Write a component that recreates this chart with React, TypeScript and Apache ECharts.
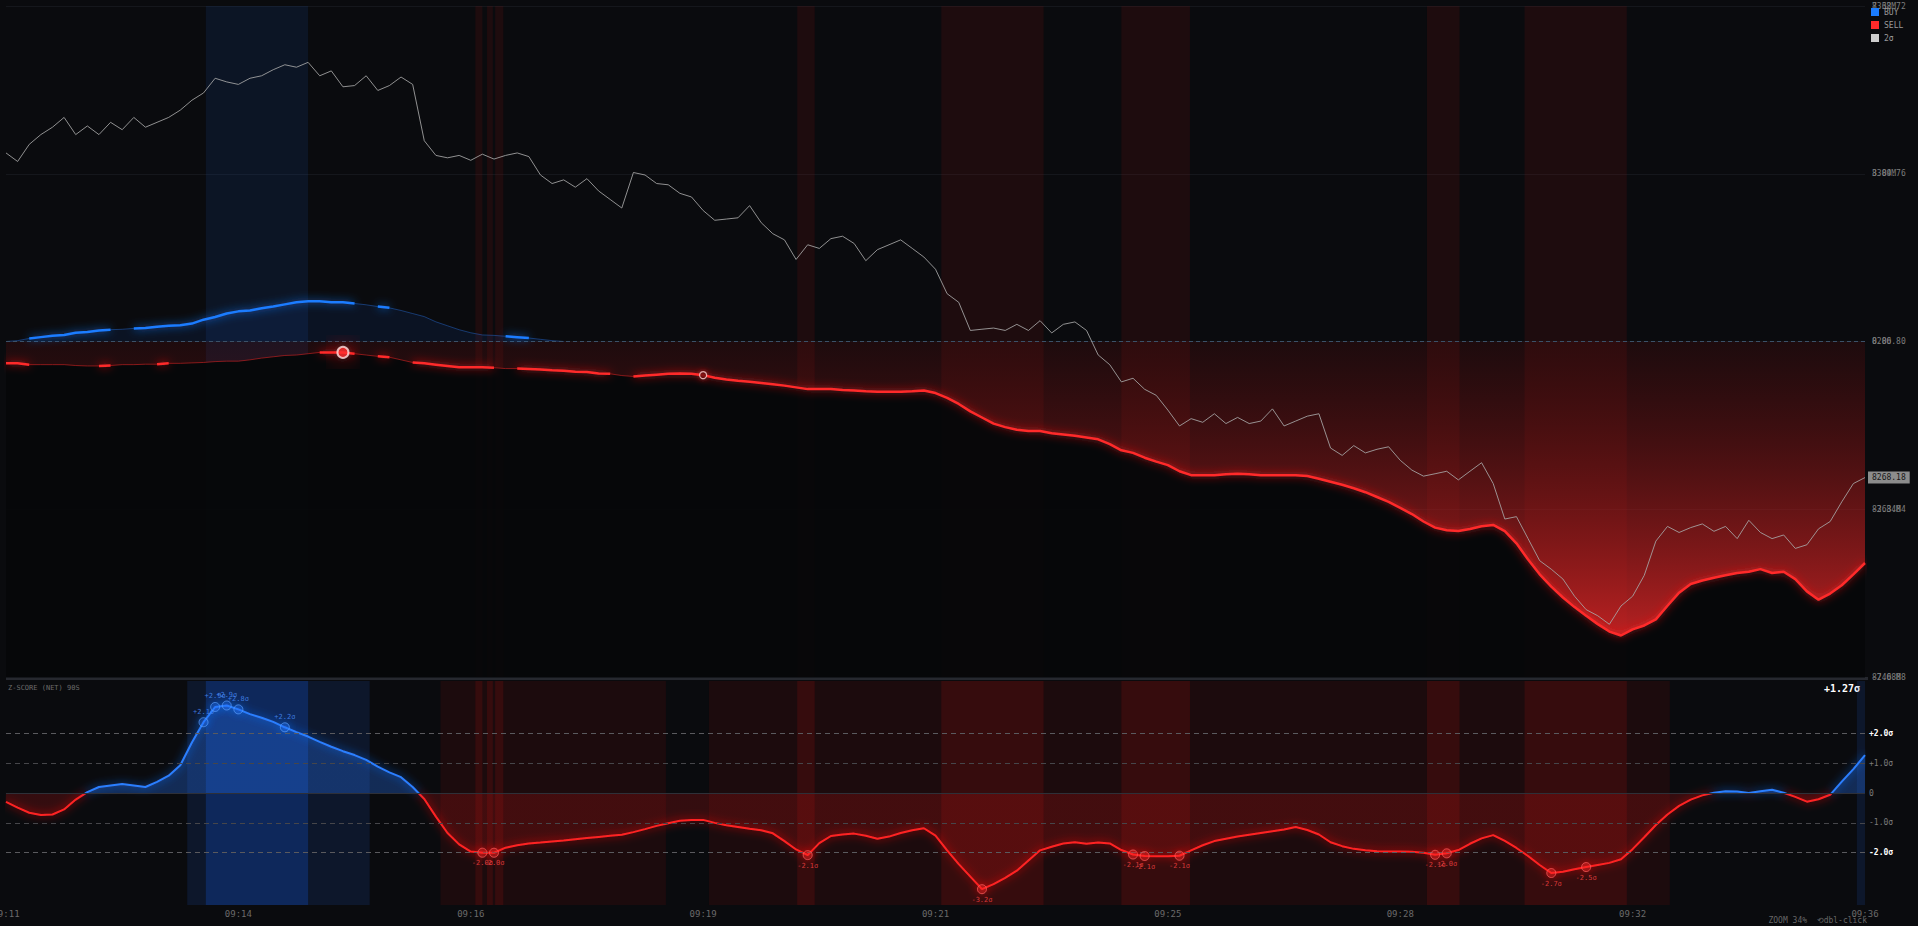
import React, { useEffect, useRef } from 'react';
import * as echarts from 'echarts';

const tickLabels = ['09:11', '09:14', '09:16', '09:19', '09:21', '09:25', '09:28', '09:32', '09:36'];
const priceTicks = ['8240.88', '8263.84', '8286.80', '8309.76', '8332.72'];

const price = [
  8312.61, 8311.44, 8313.78, 8315.12, 8316.13, 8317.47, 8315.12, 8316.30, 8315.12, 8316.80,
  8315.79, 8317.47, 8316.13, 8316.80, 8317.47, 8318.47, 8319.82, 8320.82, 8322.83, 8322.33,
  8321.99, 8322.83, 8323.17, 8324.00, 8324.68, 8324.34, 8325.01, 8323.17, 8323.84, 8321.66,
  8321.83, 8323.17, 8321.16, 8321.83, 8323.00, 8321.99, 8314.28, 8312.27, 8311.94, 8312.27,
  8311.60, 8312.44, 8311.77, 8312.27, 8312.61, 8312.11, 8309.59, 8308.42, 8308.92, 8307.92,
  8309.09, 8307.41, 8306.24, 8305.07, 8309.93, 8309.59, 8308.42, 8308.25, 8307.08, 8306.58,
  8304.73, 8303.39, 8303.56, 8303.73, 8305.40, 8303.06, 8301.55, 8300.71, 8298.03, 8300.04,
  8299.54, 8300.88, 8301.21, 8300.21, 8297.86, 8299.37, 8300.04, 8300.71, 8299.54, 8298.36,
  8296.69, 8293.34, 8292.16, 8288.31, 8288.48, 8288.64, 8288.31, 8289.15, 8288.31, 8289.65,
  8287.97, 8289.15, 8289.48, 8288.31, 8284.96, 8283.62, 8281.27, 8281.77, 8280.26, 8279.43,
  8277.41, 8275.24, 8276.24, 8275.74, 8276.91, 8275.57, 8276.41, 8275.57, 8275.91, 8277.58,
  8275.24, 8275.91, 8276.58, 8276.91, 8272.22, 8271.21, 8272.55, 8271.55, 8272.05, 8272.39,
  8270.54, 8269.20, 8268.37, 8268.70, 8269.04, 8267.86, 8269.04, 8270.21, 8267.36, 8262.50,
  8262.83, 8259.82, 8256.80, 8255.63, 8254.29, 8251.94, 8250.10, 8249.26, 8248.09, 8250.60,
  8251.94, 8254.79, 8259.48, 8261.49, 8260.66, 8261.33, 8261.83, 8260.82, 8261.49, 8259.82,
  8262.33, 8260.66, 8259.82, 8260.32, 8258.48, 8258.98, 8261.16, 8262.16, 8264.85, 8267.36,
  8268.18,
];

// cumulative BUY volume (millions), first part of the session only
const buyCum = [
  0, 0.02, 0.07, 0.10, 0.13, 0.15, 0.20, 0.22, 0.25, 0.27,
  0.28, 0.30, 0.31, 0.34, 0.36, 0.37, 0.41, 0.50, 0.56, 0.64,
  0.69, 0.71, 0.76, 0.80, 0.85, 0.90, 0.92, 0.92, 0.90, 0.90,
  0.87, 0.84, 0.80, 0.77, 0.71, 0.64, 0.57, 0.45, 0.36, 0.27,
  0.20, 0.15, 0.14, 0.12, 0.10, 0.08, 0.05, 0.02, 0,
];

// cumulative SELL volume (millions)
const sellCum = [
  -0.50, -0.50, -0.53, -0.53, -0.53, -0.53, -0.55, -0.56, -0.56, -0.55,
  -0.53, -0.53, -0.52, -0.52, -0.50, -0.50, -0.49, -0.48, -0.46, -0.45,
  -0.45, -0.42, -0.38, -0.35, -0.32, -0.31, -0.28, -0.25, -0.25, -0.25,
  -0.28, -0.31, -0.34, -0.36, -0.42, -0.48, -0.50, -0.53, -0.56, -0.59,
  -0.59, -0.59, -0.60, -0.62, -0.62, -0.63, -0.64, -0.66, -0.67, -0.69,
  -0.70, -0.73, -0.74, -0.78, -0.80, -0.78, -0.76, -0.74, -0.73, -0.74,
  -0.77, -0.83, -0.87, -0.90, -0.92, -0.95, -0.98, -1.01, -1.05, -1.09,
  -1.09, -1.09, -1.11, -1.12, -1.14, -1.15, -1.15, -1.15, -1.14, -1.12,
  -1.18, -1.29, -1.43, -1.60, -1.74, -1.88, -1.96, -2.02, -2.05, -2.05,
  -2.10, -2.13, -2.16, -2.20, -2.24, -2.35, -2.49, -2.55, -2.66, -2.75,
  -2.83, -2.97, -3.06, -3.06, -3.06, -3.04, -3.03, -3.04, -3.06, -3.06,
  -3.06, -3.06, -3.08, -3.14, -3.21, -3.28, -3.36, -3.45, -3.56, -3.67,
  -3.81, -3.95, -4.12, -4.26, -4.32, -4.34, -4.29, -4.23, -4.20, -4.34,
  -4.62, -4.99, -5.33, -5.61, -5.86, -6.08, -6.28, -6.47, -6.64, -6.73,
  -6.59, -6.50, -6.36, -6.05, -5.75, -5.55, -5.47, -5.41, -5.35, -5.30,
  -5.27, -5.21, -5.30, -5.27, -5.44, -5.72, -5.91, -5.77, -5.58, -5.33,
  -5.07,
];

const zScore = [
  -0.30, -0.49, -0.66, -0.74, -0.72, -0.55, -0.22, 0.03, 0.20, 0.25,
  0.30, 0.25, 0.20, 0.37, 0.58, 0.93, 1.69, 2.37, 2.88, 2.93,
  2.80, 2.64, 2.52, 2.38, 2.20, 2.04, 1.89, 1.71, 1.55, 1.40,
  1.27, 1.11, 0.88, 0.69, 0.53, 0.20, -0.20, -0.79, -1.34, -1.72,
  -1.96, -2.00, -2.00, -1.83, -1.75, -1.69, -1.66, -1.62, -1.59, -1.55,
  -1.51, -1.47, -1.43, -1.40, -1.31, -1.21, -1.10, -1.01, -0.93, -0.90,
  -0.90, -1.00, -1.08, -1.14, -1.20, -1.25, -1.35, -1.61, -1.89, -2.08,
  -1.68, -1.44, -1.39, -1.36, -1.43, -1.53, -1.46, -1.34, -1.25, -1.18,
  -1.43, -1.92, -2.38, -2.80, -3.22, -3.05, -2.84, -2.60, -2.26, -1.92,
  -1.80, -1.69, -1.65, -1.70, -1.66, -1.69, -1.91, -2.06, -2.11, -2.12,
  -2.12, -2.10, -1.92, -1.75, -1.61, -1.53, -1.46, -1.40, -1.34, -1.28,
  -1.22, -1.14, -1.24, -1.39, -1.65, -1.78, -1.87, -1.92, -1.95, -1.96,
  -1.96, -1.97, -2.00, -2.07, -2.02, -1.91, -1.70, -1.52, -1.41, -1.60,
  -1.84, -2.11, -2.41, -2.68, -2.64, -2.55, -2.48, -2.41, -2.34, -2.22,
  -1.88, -1.48, -1.07, -0.72, -0.43, -0.22, -0.08, 0.01, 0.06, 0.05,
  0.00, 0.06, 0.11, 0.01, -0.13, -0.29, -0.21, -0.06, 0.38, 0.80,
  1.27,
];

const buyActive = [[2, 9], [11, 19], [20, 30], [32, 33], [43, 45]];
const sellActive = [[0, 2], [8, 9], [13, 14], [27, 30], [32, 33], [35, 42], [44, 52], [54, 72], [73, 74], [75, 76], [77, 160]];
const sellSignalIdx = [29, 60];

const buyZIdx = [17, 18, 19, 20, 24];
const buyZLabels = ['+2.1σ', '+2.9σ', '+2.9σ', '+2.8σ', '+2.2σ'];
const sellZIdx = [41, 42, 69, 84, 97, 98, 101, 123, 124, 133, 136];
const sellZLabels = ['-2.0σ', '-2.0σ', '-2.1σ', '-3.2σ', '-2.1σ', '-2.1σ', '-2.1σ', '-2.1σ', '-2.0σ', '-2.7σ', '-2.5σ'];

const zLevels = [2, 1, 0, -1, -2];
const zLevelLabels = ['+2.0σ', '+1.0σ', '0', '-1.0σ', '-2.0σ'];

const mainBuyBands = [[17.2, 26.0]];
const mainSellBands = [[40.4, 41.0], [41.4, 41.9], [42.1, 42.8], [68.1, 69.6], [80.5, 89.3], [96.0, 101.9], [122.3, 125.1], [130.7, 139.5]];
const lowerBuyDim = [[15.6, 31.3], [159.3, 160]];
const lowerBuyBright = [[17.2, 26.0]];
const lowerSellDim = [[37.4, 56.8], [60.5, 143.2]];
const lowerSellBright = [[40.4, 41.0], [41.4, 41.9], [42.1, 42.8], [68.1, 69.6], [80.5, 89.3], [96.0, 101.9], [122.3, 125.1], [130.7, 139.5]];

const MONO = 'DejaVu Sans Mono';

// layout of the lower (z-score) panel, in px
const Z_TOP = 681;
const Z_H = 224;
const Z_MIN = -3.75;
const Z_MAX = 3.75;

function pairs(arr: number[]) {
  return arr.map((v, i) => [i, v]);
}
function masked(arr: number[], ranges: number[][]) {
  return arr.map((v, i) => [i, ranges.some(([a, b]) => i >= a && i <= b) ? v : null]);
}
function bands(ranges: number[][], color: any) {
  return ranges.map(([a, b]) => [{ xAxis: a, itemStyle: { color } }, { xAxis: b }]);
}
// vertical split gradient at z = 0 (global coordinates of the z panel)
function zSplit(above: string, below: string) {
  const f = Z_MAX / (Z_MAX - Z_MIN);
  return new echarts.graphic.LinearGradient(0, Z_TOP, 0, Z_TOP + Z_H, [
    { offset: 0, color: above },
    { offset: f, color: above },
    { offset: f, color: below },
    { offset: 1, color: below },
  ], true);
}

export default function App() {
  const ref = useRef<HTMLDivElement>(null);

  useEffect(() => {
    document.body.style.margin = '0';
    document.body.style.background = '#0a0b0e';
    const chart = echarts.init(ref.current!, null, { renderer: 'svg' });
    const last = zScore[zScore.length - 1];
    const lastPrice = price[price.length - 1];
    const T = 'rgba(0,0,0,0)';

    const option: any = {
      animation: false,
      backgroundColor: '#0a0b0e',
      textStyle: { fontFamily: MONO },
      legend: {
        orient: 'vertical',
        left: 1871,
        top: 8,
        padding: 0,
        itemWidth: 8,
        itemHeight: 8,
        itemGap: 5,
        icon: 'rect',
        selectedMode: false,
        textStyle: { color: '#9a9a9a', fontSize: 8, fontFamily: MONO },
        data: [
          { name: 'BUY', itemStyle: { color: '#1a7cff' } },
          { name: 'SELL', itemStyle: { color: '#ff2a2a' } },
          { name: '2σ', itemStyle: { color: '#ffffff' } },
        ],
      },
      grid: [
        { left: 6, right: 53, top: 6, height: 671, outerBoundsMode: 'none', containLabel: false },
        { left: 6, right: 53, top: Z_TOP, height: Z_H, outerBoundsMode: 'none', containLabel: false },
      ],
      xAxis: [
        { type: 'value', gridIndex: 0, min: 0, max: 160, show: false },
        {
          type: 'value', gridIndex: 1, min: 0, max: 160, interval: 20,
          axisLine: { show: false }, axisTick: { show: false }, splitLine: { show: false },
          axisLabel: {
            color: '#6a6a6a', fontSize: 9, fontFamily: MONO, margin: 4,
            showMinLabel: true, showMaxLabel: true,
            formatter: (v: number) => tickLabels[Math.round(v / 20)] ?? '',
          },
        },
      ],
      yAxis: [
        { type: 'value', gridIndex: 0, min: 8240.88, max: 8332.72, show: false },
        {
          type: 'value', gridIndex: 0, position: 'right', min: -7.68, max: 7.68, interval: 3.84,
          axisLine: { show: false }, axisTick: { show: false }, splitLine: { show: false },
          axisLabel: {
            color: '#7c7c7c', fontSize: 8, fontFamily: MONO, margin: 7,
            formatter: (v: number) => (Math.abs(v) < 1e-6 ? '0.00' : v.toFixed(2) + 'M'),
          },
        },
        {
          type: 'value', gridIndex: 0, position: 'right', min: 0, max: 4, interval: 1,
          axisLine: { show: false }, axisTick: { show: false },
          splitLine: { show: true, lineStyle: { color: '#15171c', width: 1 } },
          axisLabel: {
            color: '#7c7c7c', fontSize: 8, fontFamily: MONO, margin: 7,
            formatter: (v: number) => priceTicks[Math.round(v)] ?? '',
          },
        },
        { type: 'value', gridIndex: 1, min: Z_MIN, max: Z_MAX, show: false },
      ],
      series: [
        // 0 main bands (carried by an invisible line)
        {
          type: 'line', xAxisIndex: 0, yAxisIndex: 1, data: pairs(sellCum), z: 1, silent: true,
          showSymbol: false, lineStyle: { opacity: 0 },
          markArea: {
            silent: true,
            data: [
              ...bands(mainBuyBands, 'rgba(30,80,175,0.15)'),
              ...bands(mainSellBands, 'rgba(150,20,22,0.15)'),
            ],
          },
        },
        // 1 black cover below sell line
        {
          type: 'line', xAxisIndex: 0, yAxisIndex: 1, data: pairs(sellCum), z: 2, silent: true,
          showSymbol: false, lineStyle: { width: 0, opacity: 0 },
          areaStyle: { origin: 'start', color: '#060709', opacity: 0.93 },
        },
        // 2 red gradient between zero and sell line
        {
          type: 'line', xAxisIndex: 0, yAxisIndex: 1, data: pairs(sellCum), z: 3, silent: true,
          showSymbol: false, lineStyle: { width: 0, opacity: 0 },
          areaStyle: {
            opacity: 1,
            color: new echarts.graphic.LinearGradient(0, 0, 0, 1, [
              { offset: 0, color: 'rgba(110,12,12,0.2)' },
              { offset: 1, color: 'rgba(220,38,38,0.82)' },
            ]),
          },
        },
        // 3 blue area + zero line
        {
          type: 'line', xAxisIndex: 0, yAxisIndex: 1, data: pairs(buyCum), z: 3, silent: true,
          showSymbol: false, lineStyle: { width: 1, color: 'rgba(40,110,220,0.45)' },
          areaStyle: { color: 'rgba(30,100,230,0.1)', opacity: 1 },
          markLine: {
            silent: true, symbol: ['none', 'none'], label: { show: false },
            lineStyle: { type: [4, 3], color: '#3b5168', width: 1 },
            data: [{ yAxis: 0 }],
          },
        },
        // 4 faint sell line
        {
          type: 'line', xAxisIndex: 0, yAxisIndex: 1, data: pairs(sellCum), z: 4, silent: true,
          showSymbol: false, lineStyle: { width: 1, color: 'rgba(210,35,35,0.6)' },
        },
        // 5 SELL bright
        {
          name: 'SELL', type: 'line', xAxisIndex: 0, yAxisIndex: 1, data: masked(sellCum, sellActive), z: 5,
          showSymbol: false, connectNulls: false, itemStyle: { color: '#ff2a2a' },
          lineStyle: { width: 2.5, color: '#ff2a2a', shadowBlur: 8, shadowColor: 'rgba(255,30,30,0.9)' },
        },
        // 6 BUY bright
        {
          name: 'BUY', type: 'line', xAxisIndex: 0, yAxisIndex: 1, data: masked(buyCum, buyActive), z: 5,
          showSymbol: false, connectNulls: false, itemStyle: { color: '#1a7cff' },
          lineStyle: { width: 2.5, color: '#1a7cff', shadowBlur: 8, shadowColor: 'rgba(26,124,255,0.9)' },
        },
        // 7 price
        {
          type: 'line', xAxisIndex: 0, yAxisIndex: 0, data: pairs(price), z: 6, silent: true,
          showSymbol: false, lineStyle: { width: 1, color: '#a8a8a8', opacity: 0.85 },
          markLine: {
            silent: true, symbol: ['none', 'none'],
            lineStyle: { color: 'rgba(0,0,0,0)', width: 0 },
            label: {
              show: true, position: 'end', distance: 3, formatter: lastPrice.toFixed(2),
              backgroundColor: '#8c8c8c', color: '#161616', padding: [2, 4], fontSize: 8, fontFamily: MONO,
            },
            data: [{ yAxis: lastPrice }],
          },
        },
        // 8 2σ markers in main plot
        {
          name: '2σ', type: 'scatter', xAxisIndex: 0, yAxisIndex: 1, z: 7,
          itemStyle: { color: '#ffffff' },
          data: sellSignalIdx.map((idx, k) => ({
            value: [idx, sellCum[idx]],
            symbolSize: k === 0 ? 11 : 7,
            itemStyle: k === 0
              ? { color: '#ff3030', borderColor: '#ffe0e0', borderWidth: 2, shadowBlur: 22, shadowColor: 'rgba(255,40,40,1)' }
              : { color: '#5a0c0c', borderColor: '#ffd0d0', borderWidth: 1.2, shadowBlur: 6, shadowColor: 'rgba(255,40,40,0.8)' },
          })),
        },
        // 9 lower bands (carried by an invisible line)
        {
          type: 'line', xAxisIndex: 1, yAxisIndex: 3, data: pairs(zScore), z: 1, silent: true,
          showSymbol: false, lineStyle: { opacity: 0 },
          markArea: {
            silent: true,
            data: [
              ...bands(lowerBuyDim, 'rgba(25,75,175,0.18)'),
              ...bands(lowerBuyBright, 'rgba(20,90,230,0.26)'),
              ...bands(lowerSellDim, 'rgba(135,14,14,0.15)'),
              ...bands(lowerSellBright, 'rgba(180,18,18,0.18)'),
            ],
          },
        },
        // 10 z red part + level lines
        {
          type: 'line', xAxisIndex: 1, yAxisIndex: 3, data: pairs(zScore), z: 4, silent: true,
          showSymbol: false,
          lineStyle: { width: 2, color: zSplit(T, '#ff2424'), shadowBlur: 8, shadowColor: 'rgba(255,20,20,0.95)' },
          areaStyle: { color: zSplit(T, 'rgba(220,20,20,0.2)'), opacity: 1 },
          markLine: {
            silent: true, symbol: ['none', 'none'],
            data: zLevels.map((lv, k) => ({
              yAxis: lv,
              lineStyle: lv === 0
                ? { type: 'solid', color: '#2e3038', width: 1 }
                : { type: [5, 4], color: Math.abs(lv) === 2 ? '#5a5a5e' : '#46464a', width: 1 },
              label: {
                show: true, position: 'end', distance: 4, formatter: zLevelLabels[k],
                fontSize: 8, fontFamily: MONO,
                color: Math.abs(lv) === 2 ? '#ffffff' : '#7a7a7a',
                fontWeight: Math.abs(lv) === 2 ? 'bold' : 'normal',
              },
            })),
          },
        },
        // 11 z blue part
        {
          type: 'line', xAxisIndex: 1, yAxisIndex: 3, data: pairs(zScore), z: 4, silent: true,
          showSymbol: false,
          lineStyle: { width: 2, color: zSplit('#2a7fff', T), shadowBlur: 8, shadowColor: 'rgba(30,110,255,0.95)' },
          areaStyle: { color: zSplit('rgba(40,120,255,0.3)', T), opacity: 1 },
        },
        // 12 buy z markers
        {
          type: 'scatter', xAxisIndex: 1, yAxisIndex: 3, z: 6, symbolSize: 9,
          data: buyZIdx.map((idx) => [idx, zScore[idx]]),
          itemStyle: { color: 'rgba(40,120,255,0.35)', borderColor: 'rgba(90,160,255,0.85)', borderWidth: 1, shadowBlur: 8, shadowColor: '#1a6cff' },
          label: {
            show: true, position: 'top', distance: 2, fontSize: 7, fontFamily: MONO, color: '#4a90ff',
            formatter: (p: any) => buyZLabels[p.dataIndex],
          },
        },
        // 13 sell z markers
        {
          type: 'scatter', xAxisIndex: 1, yAxisIndex: 3, z: 6, symbolSize: 9,
          data: sellZIdx.map((idx) => [idx, zScore[idx]]),
          itemStyle: { color: 'rgba(255,40,40,0.4)', borderColor: 'rgba(255,90,90,0.9)', borderWidth: 1, shadowBlur: 8, shadowColor: '#ff2020' },
          label: {
            show: true, position: 'bottom', distance: 2, fontSize: 7, fontFamily: MONO, color: '#ff4545',
            formatter: (p: any) => sellZLabels[p.dataIndex],
          },
        },
      ],
      graphic: [
        { type: 'rect', left: 6, top: 677, shape: { width: 1862, height: 3 }, style: { fill: '#26282f' }, silent: true },
        { type: 'text', left: 8, top: 684, style: { text: 'Z-SCORE (NET) 90S', fill: '#6a6a6a', font: `7px "${MONO}"` }, silent: true },
        { type: 'text', right: 58, top: 683, style: { text: (last >= 0 ? '+' : '') + last.toFixed(2) + 'σ', fill: '#ffffff', font: `bold 10px "${MONO}"` }, silent: true },
        { type: 'text', right: 51, top: 916, style: { text: 'ZOOM 34%  ⟲dbl-click', fill: '#666666', font: `8px "${MONO}"` }, silent: true },
      ],
    };

    chart.setOption(option);
    return () => chart.dispose();
  }, []);

  return <div ref={ref} style={{ position: 'fixed', left: 0, top: 0, width: 1918, height: 926, background: '#0a0b0e' }} />;
}
